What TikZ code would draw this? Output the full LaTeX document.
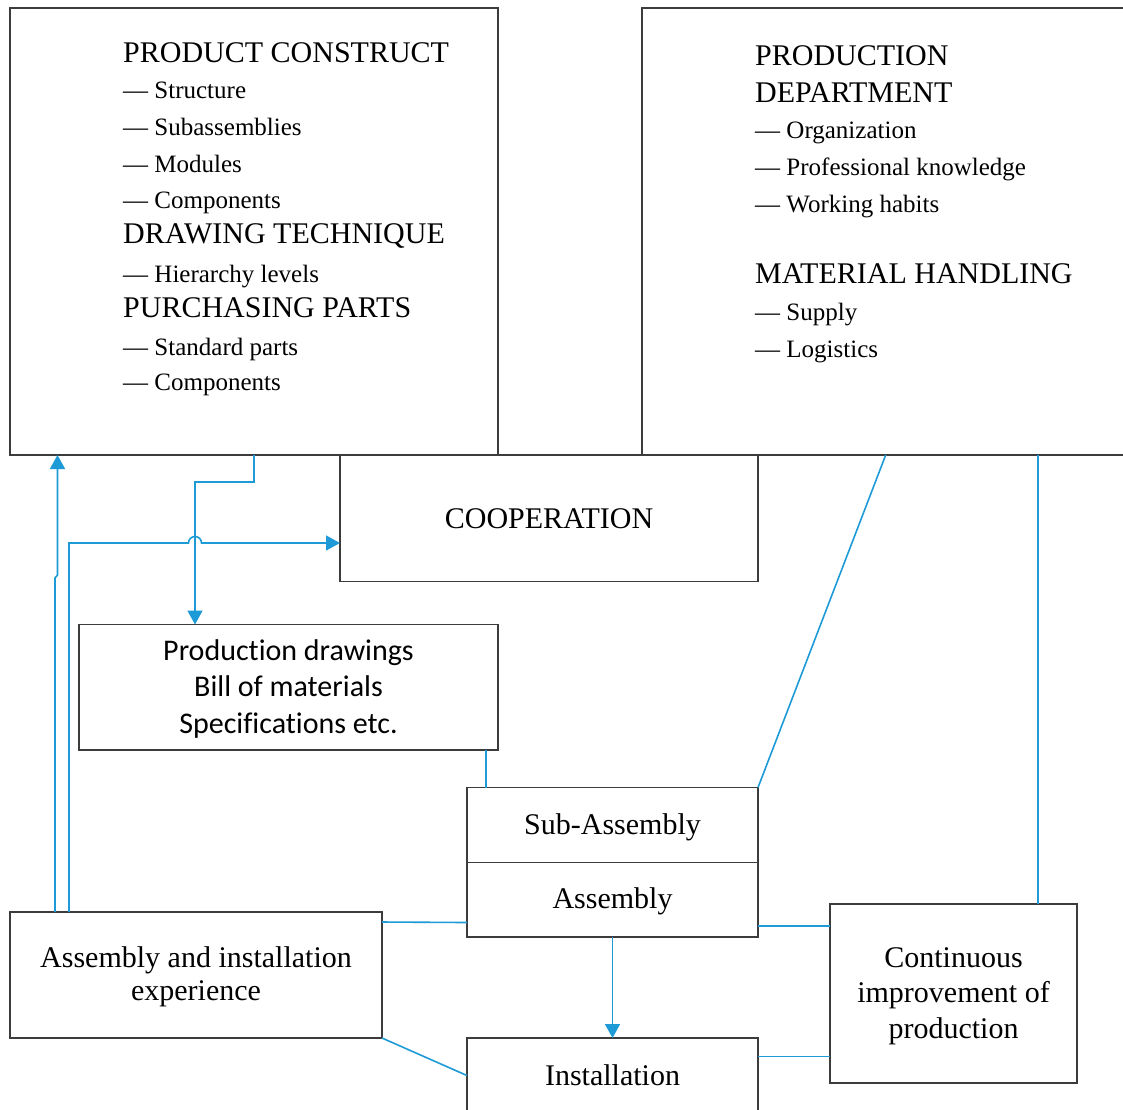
\documentclass[tikz,border=0pt]{standalone}
\usepackage{fontspec}
\setmainfont{Liberation Serif}
\newfontfamily\calfont[Ligatures=NoCommon]{Carlito}
\usetikzlibrary{arrows.meta,calc}
\definecolor{connc}{RGB}{30,155,215}
\definecolor{edgec}{RGB}{60,60,60}
\begin{document}
\begin{tikzpicture}[x=1pt,y=-1pt,
  box/.style={draw=edgec, line width=1.5pt, inner sep=0pt, outer sep=0pt, anchor=north west},
  conn/.style={draw=connc, line width=1.6pt},
  arr/.style={conn, -{Triangle[length=14pt,width=15pt]}},
  head/.style={anchor=base west, inner sep=0pt, font=\fontsize{30}{36}\selectfont},
  item/.style={anchor=base west, inner sep=0pt, font=\fontsize{25}{30}\selectfont},
  lbl/.style={anchor=base, inner sep=0pt, font=\fontsize{30}{36}\selectfont},
  clbl/.style={anchor=base, inner sep=0pt, font=\calfont\fontsize{30}{36}\selectfont},
]
\useasboundingbox (0,0) rectangle (1123,1109);
\clip (0,0) rectangle (1123,1109);

% boxes
\node[box, minimum width=488, minimum height=447] (pc) at (10,8) {};
\node[box, minimum width=520, minimum height=447] (pd) at (642,8) {};
\node[box, minimum width=418, minimum height=126.5] (coop) at (340,455) {};
\node[box, minimum width=419, minimum height=125.5] (pdr) at (79,624.5) {};
\node[box, minimum width=291, minimum height=75] (sub) at (467,787.5) {};
\node[box, minimum width=291, minimum height=74.5] (asm) at (467,862.5) {};
\node[box, minimum width=372, minimum height=126] (aie) at (10,912) {};
\node[box, minimum width=291, minimum height=120] (inst) at (467,1038) {};
\node[box, minimum width=247, minimum height=179] (ci) at (830,904) {};

% texts: product construct
\node[head] (t1) at (123,62) {PRODUCT CONSTRUCT};
\node[item] (t2) at (123,98) {\textemdash{} Structure};
\node[item] (t3) at (123,135) {\textemdash{} Subassemblies};
\node[item] (t4) at (123,172) {\textemdash{} Modules};
\node[item] (t5) at (123,208) {\textemdash{} Components};
\node[head] (t6) at (123,243) {DRAWING TECHNIQUE};
\node[item] (t7) at (123,282) {\textemdash{} Hierarchy levels};
\node[head] (t8) at (123,317) {PURCHASING PARTS};
\node[item] (t9) at (123,355) {\textemdash{} Standard parts};
\node[item] (t10) at (123,390) {\textemdash{} Components};

% production department
\node[head] (u1) at (755,65) {PRODUCTION};
\node[head] (u2) at (755,102) {DEPARTMENT};
\node[item] (u3) at (755,138.5) {\textemdash{} Organization};
\node[item] (u4) at (755,175) {\textemdash{} Professional knowledge};
\node[item] (u5) at (755,212) {\textemdash{} Working habits};
\node[head] (u6) at (755,283) {MATERIAL HANDLING};
\node[item] (u7) at (755,320) {\textemdash{} Supply};
\node[item] (u8) at (755,357) {\textemdash{} Logistics};

% other labels
\node[lbl] (v1) at (549,528) {COOPERATION};
\node[clbl] (v2) at (288.5,660) {Production drawings};
\node[clbl] (v3) at (288.5,696.7) {Bill of materials};
\node[clbl] (v4) at (288.5,733) {Specifications etc.};
\node[lbl] (v5) at (612.5,834) {Sub-Assembly};
\node[lbl] (v6) at (612.5,908) {Assembly};
\node[lbl] (v7) at (612.5,1085) {Installation};
\node[lbl] (v8) at (196,967) {Assembly and installation};
\node[lbl] (v9) at (196,1000.7) {experience};
\node[lbl] (v10) at (953.5,967) {Continuous};
\node[lbl] (v11) at (953.5,1002) {improvement of};
\node[lbl] (v12) at (953.5,1038) {production};

% connectors
\draw[arr] ($(pc.south west)+(244,0)$) -- (254,482) -- (195,482) -- ($(pdr.north west)+(116,0)$);
\draw[arr] ($(aie.north west)+(59,0)$) -- (69,543) -- (188.5,543)
  arc[start angle=180, end angle=360, radius=6.5] -- ($(coop.north west)+(0,88)$);
\draw[arr] ($(aie.north west)+(45,0)$) -- (55,578) -- (57.5,575) -- ($(pc.south west)+(47.5,0)$);
\draw[conn] ($(pdr.south west)+(406.7,0)$) -- ($(sub.north west)+(18.7,0)$);
\draw[conn] ($(pd.south west)+(243.7,0)$) -- (sub.north east);
\draw[conn] ($(pd.south west)+(395.7,0)$) -- ($(ci.north west)+(207.7,0)$);
\draw[conn] ($(aie.north east)+(0,10)$) -- ($(asm.north west)+(0,60)$);
\draw[conn] (aie.south east) -- ($(inst.north west)+(0,37.5)$);
\draw[conn] ($(asm.north east)+(0,63.5)$) -- ($(ci.north west)+(0,22)$);
\draw[conn] ($(inst.north east)+(0,18.5)$) -- ($(ci.north west)+(0,152.5)$);
\draw[arr] (asm.south) -- (inst.north);
\end{tikzpicture}
\end{document}
